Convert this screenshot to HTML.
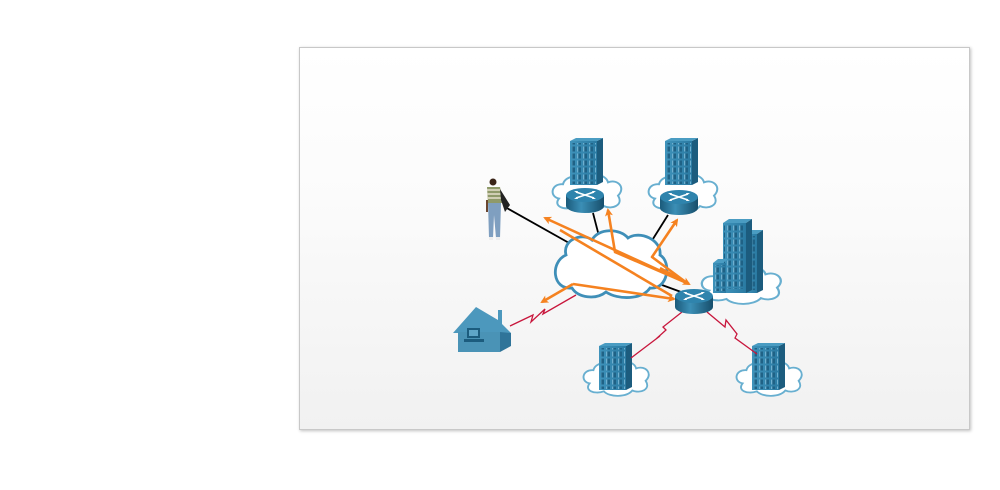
<!DOCTYPE html>
<html><head><meta charset="utf-8"><style>
html,body{margin:0;padding:0;background:#fff;width:1000px;height:490px;overflow:hidden}
#panel{position:absolute;left:299px;top:47px;width:669px;height:381px;border:1px solid #c8c8c8;box-shadow:1px 1px 3px rgba(0,0,0,0.25);background:linear-gradient(#ffffff 0%,#fbfbfb 40%,#f1f1f1 100%)}
svg{position:absolute;left:0;top:0}
</style></head><body>
<div id="panel"></div>
<svg width="1000" height="490" viewBox="0 0 1000 490">
<defs>
<linearGradient id="bf" x1="0" x2="1"><stop offset="0" stop-color="#3f93bb"/><stop offset="1" stop-color="#2a7aa2"/></linearGradient>
<linearGradient id="rt" x1="0" x2="1"><stop offset="0" stop-color="#1b5a7a"/><stop offset="0.4" stop-color="#3b8fb6"/><stop offset="1" stop-color="#174e6b"/></linearGradient>
<pattern id="win" width="6" height="7" patternUnits="userSpaceOnUse"><rect x="1" y="1.5" width="4" height="5" fill="#1f6286"/><rect x="1" y="1.5" width="1.3" height="5" fill="#6fb0d0"/></pattern>
<g id="cloud"><path d="M8,30 C-2,28 0,14 12,15 C14,6 28,4 33,11 C39,2 55,4 57,13 C67,9 75,19 67,27 C73,37 61,42 53,38 C47,46 29,46 23,39 C13,43 2,38 8,30 Z" fill="#fff" stroke="#68afd0" stroke-width="2"/></g>
<g id="bld"><polygon points="27,3 33,0 33,44 27,47" fill="#1c5c7e"/><polygon points="0,3 6,0 33,0 27,3" fill="#4a9cc2"/><rect x="0" y="3" width="27" height="44" fill="url(#bf)"/><rect x="2" y="5" width="24" height="41" fill="url(#win)"/></g>
<g id="rtr"><path d="M-19,0 L-19,11 A19,7 0 0 0 19,11 L19,0 Z" fill="url(#rt)"/><ellipse cx="0" cy="0" rx="19" ry="7" fill="#2f84ad"/><path d="M-9,-3 L9,3 M-9,3 L9,-3" stroke="#fff" stroke-width="1.6"/><path d="M-11,-4 l4,0 l-1,2 Z M11,4 l-4,0 l1,-2 Z M-11,4 l4,0 l-1,-2 Z M11,-4 l-4,0 l1,2 Z" fill="#fff"/></g>
<marker id="ah" markerWidth="8" markerHeight="8" refX="6" refY="4" orient="auto" markerUnits="userSpaceOnUse"><path d="M0,0 L8,4 L0,8 L2,4 Z" fill="#f58220"/></marker>
</defs>

<use href="#cloud" transform="translate(551,170) scale(1.0,0.95)"/>
<use href="#bld" transform="translate(570,138)"/>
<use href="#cloud" transform="translate(647,170) scale(1.0,0.95)"/>
<use href="#bld" transform="translate(665,138)"/>
<use href="#cloud" transform="translate(700,262) scale(1.15,0.95)"/>
<g>
<polygon points="745,234 751,230 763,230 757,234" fill="#4a9cc2"/><polygon points="757,234 763,230 763,290 757,293" fill="#1c5c7e"/><rect x="745" y="234" width="12" height="59" fill="url(#bf)"/><rect x="746" y="236" width="10" height="54" fill="url(#win)"/>
<polygon points="723,223 729,219 752,219 746,223" fill="#4a9cc2"/><polygon points="746,223 752,219 752,290 746,293" fill="#1c5c7e"/><rect x="723" y="223" width="23" height="70" fill="url(#bf)"/><rect x="724" y="225" width="20" height="64" fill="url(#win)"/>
<polygon points="713,263 718,259 728,259 723,263" fill="#4a9cc2"/><rect x="713" y="263" width="13" height="30" fill="url(#bf)"/><rect x="714" y="265" width="11" height="26" fill="url(#win)"/>
</g>
<use href="#cloud" transform="translate(582,357) scale(0.95,0.88)"/>
<use href="#bld" transform="translate(599,343)"/>
<use href="#cloud" transform="translate(735,357) scale(0.95,0.88)"/>
<use href="#bld" transform="translate(752,343)"/>

<g stroke="#000" stroke-width="1.8" fill="none">
<line x1="505" y1="207" x2="578" y2="248"/>
<line x1="593" y1="213" x2="600" y2="240"/>
<line x1="668" y1="215" x2="646" y2="250"/>
<line x1="662" y1="285" x2="692" y2="296"/>
</g>
<g stroke="#c8163c" stroke-width="1.3" fill="none">
<polyline points="510,326 533,315 531,322 545,309 543,314 576,295"/>
<polyline points="682,312 663,327 666,330 656,339 660,336 631,358"/>
<polyline points="707,312 725,327 726,320 737,334 735,338 757,354"/>
</g>

<path d="M572,288 C552,290 550,262 566,255 C562,240 582,232 592,240 C598,228 620,228 628,238 C640,230 662,240 660,255 C672,262 668,290 650,288 C642,300 618,300 606,292 C596,300 578,298 572,288 Z" fill="#fff" stroke="#3f8fb8" stroke-width="2.8"/>

<g stroke="#f58220" stroke-width="2.6" fill="none" stroke-linejoin="round">
<line x1="687" y1="283" x2="545" y2="218" marker-end="url(#ah)"/>
<line x1="672" y1="296" x2="560" y2="230"/>
<polyline points="687,283 615,252 608,210" marker-end="url(#ah)"/>
<polyline points="687,283 652,257 677,220" marker-end="url(#ah)"/>
<polyline points="573,284 542,302" marker-end="url(#ah)"/>
<polyline points="573,284 674,299" marker-end="url(#ah)"/>
<line x1="660" y1="268" x2="689" y2="284" marker-end="url(#ah)"/>
</g>

<use href="#rtr" transform="translate(585,195)"/>
<use href="#rtr" transform="translate(679,197)"/>
<use href="#rtr" transform="translate(694,296)"/>

<g>
<polygon points="453,333 476,307 498,320 498,310 502,310 502,324 511,333" fill="#4c98bd"/>
<rect x="458" y="332" width="42" height="20" fill="#4a93b6"/>
<polygon points="500,332 511,333 511,346 500,352" fill="#2f7499"/>
<rect x="467" y="328" width="13" height="10" fill="#1c5c7e"/><rect x="469" y="330" width="9" height="6" fill="#5fa6c8"/>
<rect x="464" y="339" width="20" height="3" fill="#1c5c7e"/>
</g>

<g>
<circle cx="493" cy="182" r="3.5" fill="#3a2418"/>
<path d="M487,187 L500,187 L503,203 L488,203 Z" fill="#8f9a6a"/>
<path d="M487,190 h14 M487,194 h15 M487,198 h15" stroke="#e6e0cc" stroke-width="1.5"/>
<path d="M500,189 L510,205 L505,212 L501,200 Z" fill="#222"/>
<path d="M488,203 L501,203 L500,238 L496,238 L494,215 L493,238 L489,238 Z" fill="#7f9fc0"/>
<rect x="486" y="200" width="2" height="12" fill="#6b4630"/>
<rect x="489" y="237" width="4" height="3" fill="#eee"/><rect x="496" y="237" width="4" height="3" fill="#eee"/>
</g>
</svg>
</body></html>
